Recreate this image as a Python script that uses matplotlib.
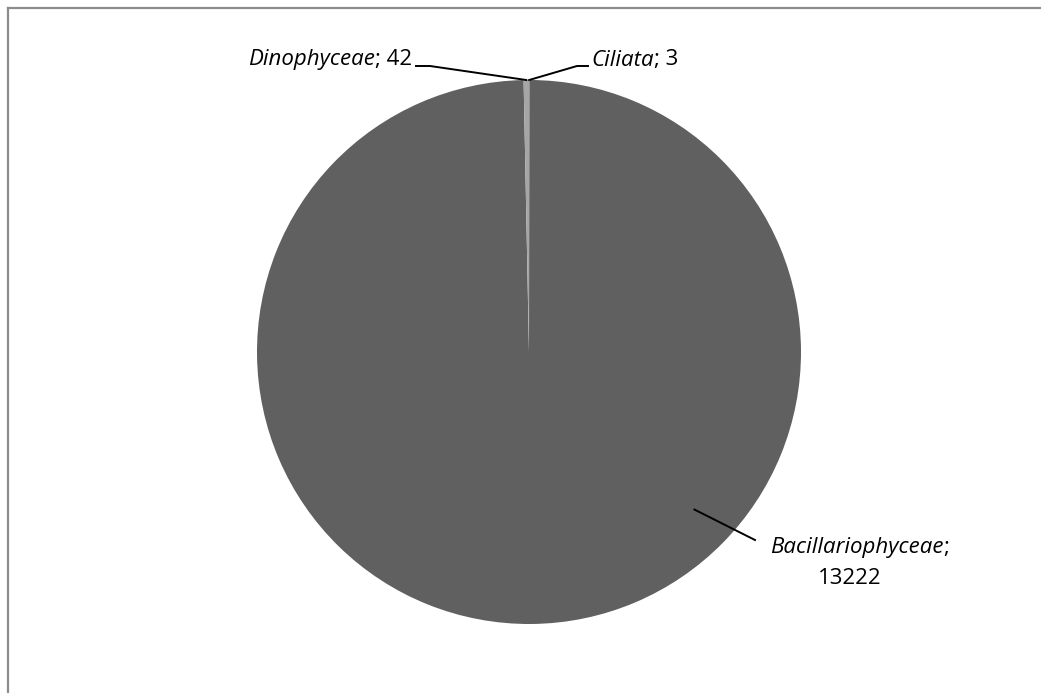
import numpy as np
import matplotlib.pyplot as plt
from matplotlib.lines import Line2D

# phytoplankton counts by group
groups = ["Ciliata", "Bacillariophyceae", "Dinophyceae"]
counts = [3, 13222, 42]
colors = ["#d9d9d9", "#606060", "#a6a6a6"]

W, H = 1041, 693
plt.rcParams["font.family"] = ["Open Sans", "DejaVu Sans"]
fs = 16

fig = plt.figure(figsize=(W / 100, H / 100), dpi=100)
ax = fig.add_axes([0, 0, 1, 1])

cx, cy, r = 529, H - 352, 272
wedges, _ = ax.pie(counts, colors=colors, startangle=90, counterclock=False,
                   radius=r, center=(cx, cy), frame=True,
                   wedgeprops=dict(linewidth=0))
ax.set_xlim(0, W)
ax.set_ylim(0, H)
ax.axis("off")


def edge_point(w, frac=1.0):
    ang = np.deg2rad((w.theta1 + w.theta2) / 2)
    return cx + frac * r * np.cos(ang), cy + frac * r * np.sin(ang)


def name_value(x, y, name, suffix, ha):
    # italic group name followed by upright "; value"
    if ha == "left":
        t = ax.text(x, y, name, fontsize=fs, style="italic", ha="left", va="center")
        fig.canvas.draw()
        ax.text(t.get_window_extent().x1, y, suffix, fontsize=fs, ha="left", va="center")
    else:
        t = ax.text(x, y, suffix, fontsize=fs, ha="right", va="center")
        fig.canvas.draw()
        ax.text(t.get_window_extent().x0, y, name, fontsize=fs, style="italic",
                ha="right", va="center")


# Dinophyceae, left of 12 o'clock
p = edge_point(wedges[2])
ax.plot([p[0], 430, 416], [p[1], H - 66, H - 66], color="black", lw=1.4)
name_value(412, H - 60, groups[2], "; " + str(counts[2]), "right")

# Ciliata, right of 12 o'clock
p = edge_point(wedges[0])
ax.plot([p[0], 577, 588], [p[1], H - 66, H - 66], color="black", lw=1.4)
name_value(591, H - 60, groups[0], "; " + str(counts[0]), "left")

# Bacillariophyceae, label set off to the lower right
ang = np.deg2rad(-43.6)
p = (cx + 0.84 * r * np.cos(ang), cy + 0.84 * r * np.sin(ang))
ax.plot([p[0], 755], [p[1], H - 540], color="black", lw=1.4)
name_value(770, H - 547, groups[1], ";", "left")
ax.text(850, H - 578, str(counts[1]), fontsize=fs, ha="center", va="center")

# chart area border (top and left edges)
fig.add_artist(Line2D([8 / W, 8 / W], [0, 1 - 8 / H], transform=fig.transFigure,
                      color="#8c8c8c", lw=1.6))
fig.add_artist(Line2D([8 / W, 1], [1 - 8 / H, 1 - 8 / H], transform=fig.transFigure,
                      color="#8c8c8c", lw=1.6))

fig.savefig("out.png", dpi=100, facecolor="white")
